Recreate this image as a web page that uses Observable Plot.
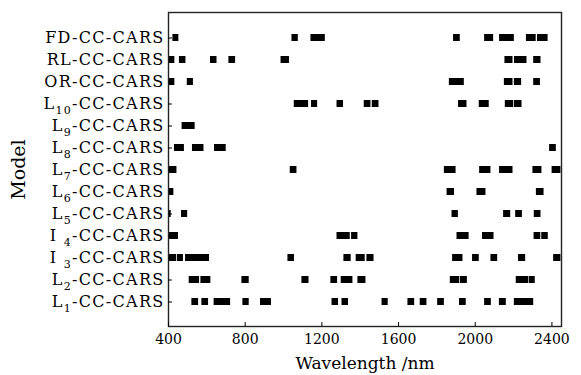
<!DOCTYPE html>
<html><head><meta charset="utf-8">
<script src="https://cdn.jsdelivr.net/npm/d3@7"></script>
<script src="https://cdn.jsdelivr.net/npm/@observablehq/plot@0.6"></script>
<style>body{margin:0;background:#fff}</style>
</head><body><div id="chart"></div>
<script>
const models = ["FD-CC-CARS","RL-CC-CARS","OR-CC-CARS","L₁₀-CC-CARS","L₉-CC-CARS","L₈-CC-CARS","L₇-CC-CARS","L₆-CC-CARS","L₅-CC-CARS","I ₄-CC-CARS","I ₃-CC-CARS","L₂-CC-CARS","L₁-CC-CARS"];
const xTicks = [400, 800, 1200, 1600, 2000, 2400];
const fd  = [[423,454],[1044,1077],[1143,1218],[1887,1922],[2049,2096],[2127,2204],[2267,2318],[2325,2380]];
const rl  = [[404,433],[457,491],[619,653],[715,750],[987,1031],[2155,2197],[2205,2270],[2305,2343]];
const orr = [[404,433],[498,530],[1865,1943],[2152,2197],[2204,2242],[2305,2340]];
const l10 = [[1056,1131],[1146,1178],[1279,1313],[1421,1456],[1463,1498],[1913,1957],[2021,2073],[2157,2200],[2204,2244]];
const l9  = [[471,539]];
const l8  = [[431,483],[525,585],[640,701],[2388,2423]];
const l7  = [[404,444],[1035,1070],[1839,1900],[2023,2082],[2127,2197],[2301,2348],[2401,2447]];
const l6  = [[400,428],[1853,1892],[2009,2056],[2319,2359]];
const l5  = [[400,414],[468,500],[1879,1912],[2148,2185],[2211,2246],[2308,2343]];
const i4  = [[404,452],[1279,1348],[1355,1388],[1905,1968],[2038,2098],[2307,2342],[2347,2381]];
const i3  = [[404,442],[446,478],[489,614],[1023,1057],[1315,1353],[1379,1426],[1435,1472],[1882,1936],[1986,2021],[2082,2117],[2226,2263],[2409,2447]];
const l2  = [[508,562],[569,621],[783,821],[1096,1133],[1247,1282],[1301,1362],[1388,1430],[1870,1918],[1922,1959],[2214,2279],[2282,2313]];
const l1  = [[522,557],[574,609],[638,724],[788,821],[880,937],[1253,1287],[1305,1339],[1514,1546],[1649,1684],[1713,1748],[1804,1839],[1918,1953],[2049,2084],[2126,2162],[2204,2305]];
const rows = [fd, rl, orr, l10, l9, l8, l7, l6, l5, i4, i3, l2, l1];
const bars = rows.flatMap((r, i) => r.map(([a, b]) => ({model: models[i], start: a, end: b})));

const chart = Plot.plot({
  width: 581, height: 375,
  marginTop: 12, marginRight: 20, marginBottom: 49, marginLeft: 168,
  style: {fontFamily: "DejaVu Serif", fontSize: "15px", color: "#000", background: "#fff"},
  x: {domain: [400, 2450]},
  y: {domain: models, paddingInner: 0.6875, paddingOuter: 0.84375},
  marks: [
    Plot.barX(bars, {x1: "start", x2: "end", y: "model", fill: "#000"}),
    Plot.frame({stroke: "#222", strokeWidth: 1.4}),
    Plot.axisX({ticks: xTicks, tickFormat: d => String(d), tickSize: -4, tickPadding: 12, fontSize: 14, label: null}),
    Plot.axisX({ticks: [], label: "Wavelength /nm", labelAnchor: "center", labelArrow: "none", labelOffset: 42}),
    Plot.axisY({tickSize: -4, tickPadding: 8, fontSize: 16, label: null}),
    Plot.axisY({ticks: [], label: "Model", labelAnchor: "center", labelArrow: "none", labelOffset: 157})
  ]
});
document.getElementById("chart").appendChild(chart);

// render subscripts as real shifted text; size axis titles
const subMap = {"₀":"0","₁":"1","₂":"2","₃":"3","₄":"4","₅":"5","₆":"6","₇":"7","₈":"8","₉":"9"};
const svgNS = "http://www.w3.org/2000/svg";
chart.querySelectorAll("text").forEach(t => {
  const s = t.textContent;
  if (s === "Wavelength /nm") { t.style.fontSize = "17px"; return; }
  if (s === "Model") { t.style.fontSize = "19px"; return; }
  if (!models.includes(s)) return;
  t.setAttribute("letter-spacing", "1.3");
  const m = s.match(/^([^₀-₉]*?)([₀-₉]+)(.*)$/);
  if (!m) return;
  while (t.firstChild) t.removeChild(t.firstChild);
  const a = document.createElementNS(svgNS, "tspan"); a.textContent = m[1];
  const b = document.createElementNS(svgNS, "tspan"); b.textContent = [...m[2]].map(c => subMap[c]).join("");
  b.setAttribute("dy", "5"); b.setAttribute("font-size", "11");
  const c = document.createElementNS(svgNS, "tspan"); c.textContent = m[3]; c.setAttribute("dy", "-5");
  t.append(a, b, c);
});
</script></body></html>
